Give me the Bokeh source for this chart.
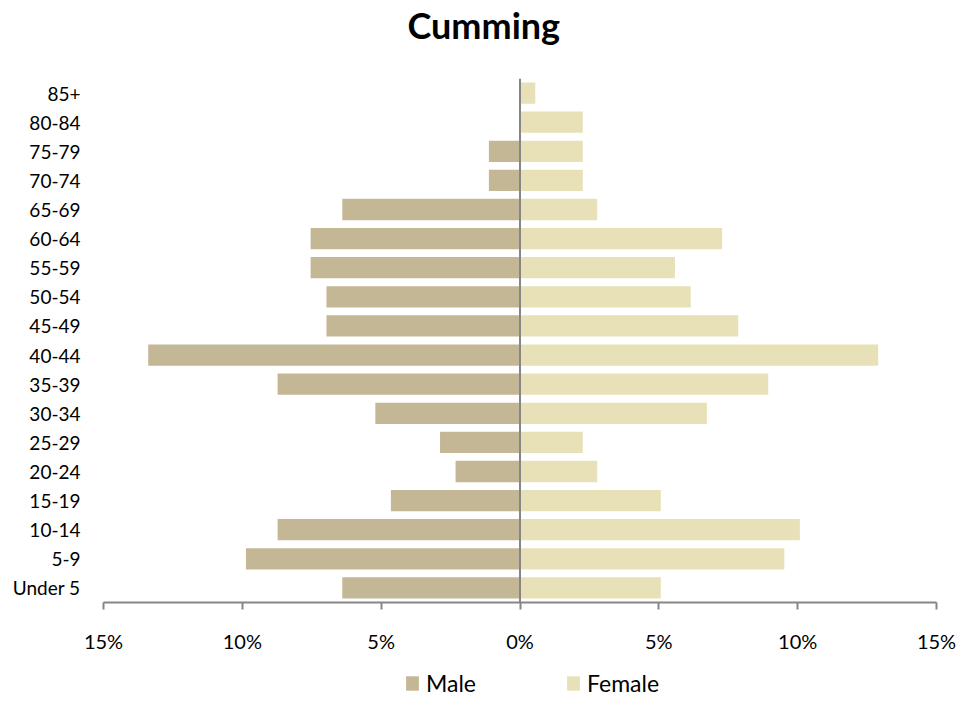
from bokeh.plotting import figure
from bokeh.layouts import column
from bokeh.models import (FactorRange, Range1d, FixedTicker, Span, Legend, LegendItem,
                          ColumnDataSource)
from bokeh.embed import file_html
from bokeh.resources import INLINE

# ---- data ----
age_groups = ["Under 5", "5-9", "10-14", "15-19", "20-24", "25-29", "30-34", "35-39",
              "40-44", "45-49", "50-54", "55-59", "60-64", "65-69", "70-74", "75-79",
              "80-84", "85+"]
male_pct = [6.40, 9.87, 8.73, 4.65, 2.32, 2.88, 5.21, 8.73,
            13.39, 6.97, 6.97, 7.54, 7.54, 6.40, 1.12, 1.12, 0.0, 0.0]
female_pct = [5.07, 9.52, 10.08, 5.07, 2.78, 2.26, 6.73, 8.94,
              12.90, 7.86, 6.15, 5.58, 7.28, 2.78, 2.26, 2.26, 2.26, 0.55]
tick_values = [-15, -10, -5, 0, 5, 10, 15]
tick_labels = ["15%", "10%", "5%", "0%", "5%", "10%", "15%"]
title_text = "Cumming"
series_names = ["Male", "Female"]

MALE_COLOR = "#C4B795"
FEMALE_COLOR = "#E8E1B7"
AXIS_COLOR = "#868686"
FONT = "Lato"

src = ColumnDataSource(dict(
    age=age_groups,
    male_left=[-v for v in male_pct],
    zero=[0.0] * len(age_groups),
    female_right=female_pct,
))

# ---- title strip ----
p0 = figure(width=963, height=78, x_range=Range1d(-15, 15), y_range=Range1d(0, 1),
            output_backend="svg", toolbar_location=None, min_border=0,
            x_axis_location=None, y_axis_location=None)
p0.grid.visible = False
p0.outline_line_color = None
p0.title.text = title_text
p0.title.align = "left"
p0.title.offset = 304
p0.title.standoff = 0
p0.title.text_font = FONT
p0.title.text_font_style = "bold"
p0.title.text_font_size = "36px"
p0.title.text_color = "#000000"

# ---- main chart ----
p = figure(width=963, height=579,
           y_range=FactorRange(factors=age_groups),
           x_range=Range1d(-15, 15),
           output_backend="svg", toolbar_location=None,
           min_border_left=103, min_border_right=27,
           min_border_top=0, min_border_bottom=55)

xa = p.below[0]
ya = p.left[0]

rm = p.hbar(y="age", left="male_left", right="zero", height=0.73, source=src,
            fill_color=MALE_COLOR, line_color=None)
rf = p.hbar(y="age", left="zero", right="female_right", height=0.73, source=src,
            fill_color=FEMALE_COLOR, line_color=None)

p.add_layout(Span(location=0, dimension="height", line_color=AXIS_COLOR, line_width=2))

p.xgrid.visible = False
p.ygrid.visible = False
p.outline_line_color = None

xa.ticker = FixedTicker(ticks=tick_values, minor_ticks=[])
xa.major_label_overrides = {v: l for v, l in zip(tick_values, tick_labels)}
xa.axis_line_color = AXIS_COLOR
xa.axis_line_width = 2
xa.major_tick_line_color = AXIS_COLOR
xa.major_tick_line_width = 2
xa.major_tick_out = 7
xa.major_tick_in = 0
xa.minor_tick_line_color = None
xa.major_label_text_font = FONT
xa.major_label_text_font_size = "20px"
xa.major_label_text_color = "#000000"
xa.major_label_standoff = 19

ya.axis_line_color = None
ya.major_tick_line_color = None
ya.minor_tick_line_color = None
ya.major_tick_out = 0
ya.major_tick_in = 0
ya.major_label_standoff = 23
ya.major_label_text_font = FONT
ya.major_label_text_font_size = "19px"
ya.major_label_text_color = "#000000"

# ---- legend strip (frame aligned with the main chart) ----
p2 = figure(width=963, height=40, x_range=Range1d(-15, 15),
            y_range=FactorRange(factors=age_groups),
            output_backend="svg", toolbar_location=None, min_border=0,
            x_axis_location=None, y_axis_location=None)
p2.grid.visible = False
p2.outline_line_color = None
lm = p2.hbar(y="age", left="male_left", right="zero", height=0.73, source=src,
             fill_color=MALE_COLOR, line_color=None, visible=False)
lf = p2.hbar(y="age", left="zero", right="female_right", height=0.73, source=src,
             fill_color=FEMALE_COLOR, line_color=None, visible=False)

legend = Legend(items=[LegendItem(label=series_names[0], renderers=[lm]),
                       LegendItem(label=series_names[1], renderers=[lf])],
                orientation="horizontal", location=(301, 0),
                border_line_color=None, background_fill_alpha=0,
                inactive_fill_alpha=0,
                padding=0, margin=0, spacing=89,
                glyph_width=16, glyph_height=18, label_height=18, label_standoff=6,
                label_text_font=FONT, label_text_font_size="23px",
                label_text_color="#000000")
p2.add_layout(legend, "center")

layout = column(p0, p, p2, spacing=0)

open("out.html", "w").write(file_html(layout, INLINE))
